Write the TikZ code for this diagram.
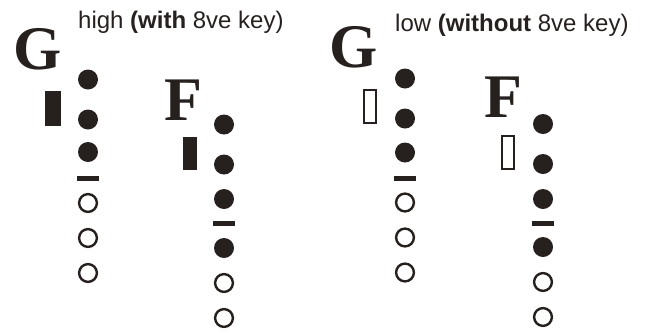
\documentclass[tikz,border=0pt]{standalone}
\usepackage{fontspec}
\newfontfamily\labelfont{Liberation Sans}
\newfontfamily\notefont{Liberation Serif}
\definecolor{ink}{RGB}{38,33,31}
\def\closedhole(#1,#2){\fill[ink] (#1,#2) circle (10pt);}
\def\openhole(#1,#2){\draw[ink, line width=2.4pt] (#1,#2) circle (8.9pt);}
\def\breakmark(#1,#2){\fill[ink] ({#1-11},{#2-2.5}) rectangle ({#1+11},{#2+2.5});}

\begin{document}
\begin{tikzpicture}[x=1pt, y=-1pt]
		%%%%% START %%%%%
		\useasboundingbox (0,0) rectangle (647,333);
		
		\node[anchor=base west, inner sep=0, ink] (highlbl) at (78,28) {\labelfont\fontsize{24}{28}\selectfont high {\bfseries(with} 8ve key)};
		\node[anchor=base west, inner sep=0, ink] (lowlbl) at (395,31.5) {\labelfont\fontsize{24}{28}\selectfont low {\bfseries(without} 8ve key)};
		
		% high G
		\node[inner sep=0, ink] (ghigh) at (38,49) {\notefont\bfseries\fontsize{62}{62}\selectfont G};
		\fill[ink] (45,91) rectangle (61,126);
		\closedhole(88,79.5)
		\closedhole(88,119.5)
		\closedhole(88,152)
		\breakmark(88,178.5)
		\openhole(88,203)
		\openhole(88,238)
		\openhole(88,273)
		
		% high F
		\node[inner sep=0, ink] (fhigh) at (183.5,100) {\notefont\bfseries\fontsize{62}{62}\selectfont F};
		\fill[ink] (183,137) rectangle (197,170);
		\closedhole(224,124.5)
		\closedhole(224,164.5)
		\closedhole(224,199)
		\breakmark(224,223.5)
		\closedhole(224,248)
		\openhole(224,283)
		\openhole(224,318)
		
		% low G
		\node[inner sep=0, ink] (glow) at (353.5,47.5) {\notefont\bfseries\fontsize{62}{62}\selectfont G};
		\draw[ink, line width=2pt] (364,90) rectangle (376,123);
		\closedhole(405,78.5)
		\closedhole(405,118.5)
		\closedhole(405,152.5)
		\breakmark(405,178)
		\openhole(405,202.5)
		\openhole(405,237.5)
		\openhole(405,272.5)
		
		% low F
		\node[inner sep=0, ink] (flow) at (503.5,97) {\notefont\bfseries\fontsize{62}{62}\selectfont F};
		\draw[ink, line width=2pt] (502,136) rectangle (514,169);
		\closedhole(543,124)
		\closedhole(543,164)
		\closedhole(543,199)
		\breakmark(543,223)
		\closedhole(543,247)
		\openhole(543,282)
		\openhole(543,317)
		
		%%%%% END %%%%%
\end{tikzpicture}
\end{document}
